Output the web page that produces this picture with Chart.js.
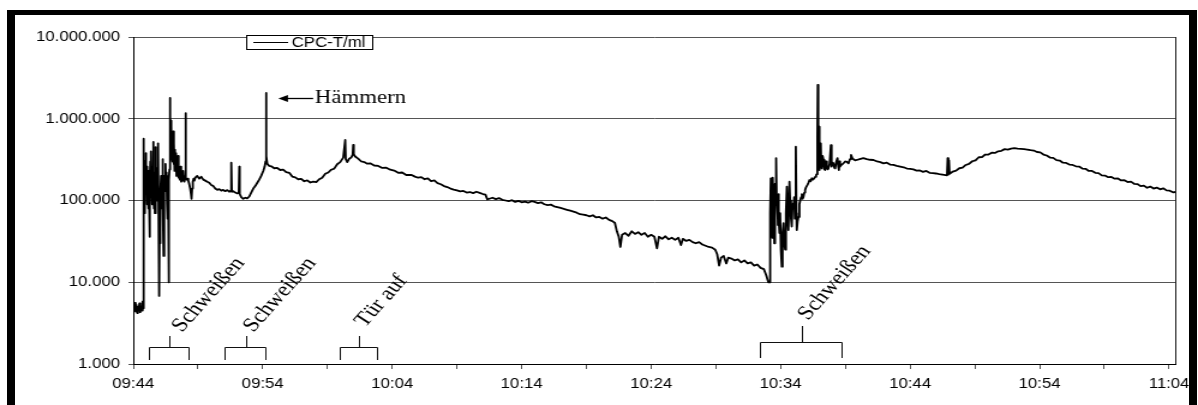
<!DOCTYPE html>
<html>
<head>
<meta charset="utf-8">
<script src="https://cdn.jsdelivr.net/npm/chart.js@4.4.1/dist/chart.umd.min.js"></script>
<style>
  html, body { margin: 0; padding: 0; background: #fff; overflow: hidden; }
  /* the original picture is stretched sideways, so the canvas is too */
  #wrap { position: absolute; left: 0; top: 0; width: 998px; height: 405px; transform: scaleX(1.2004); transform-origin: 0 0; }
  #frame { position: absolute; left: 7px; top: 10px; width: 1174px; height: 400px;
           border-left: 8px solid #000; border-top: 5px solid #000; border-right: 8px solid #000; pointer-events: none; }
</style>
</head>
<body>
<div id="wrap"><canvas id="c" width="998" height="405"></canvas></div>
<div id="frame"></div>
<script>
// minutes after 09:44
const minutes = [
  // 09:44 low start
  0.00, 0.06, 0.12, 0.18, 0.24, 0.30, 0.36, 0.42, 0.48, 0.54,
  0.60, 0.66, 0.72, 0.76,
  // first welding
  0.79, 0.82, 0.85, 0.88, 0.91, 0.94, 0.97, 1.00, 1.03, 1.06,
  1.09, 1.12, 1.16, 1.19, 1.22, 1.26, 1.29, 1.32, 1.35, 1.38,
  1.41, 1.44, 1.48, 1.51, 1.54, 1.57, 1.60, 1.63, 1.67, 1.70,
  1.73, 1.76, 1.80, 1.83, 1.86, 1.90, 1.93, 1.96, 2.00, 2.04,
  2.07, 2.11, 2.15, 2.19, 2.23, 2.26, 2.30, 2.34, 2.37, 2.41,
  2.45, 2.49, 2.53, 2.57, 2.61, 2.65, 2.69, 2.73, 2.77, 2.80,
  2.83,
  2.86, 2.89, 2.92, 2.95, 2.98, 3.01, 3.05, 3.08, 3.12, 3.15,
  3.19, 3.22, 3.26, 3.30, 3.34, 3.38, 3.42, 3.46, 3.50, 3.55,
  3.60, 3.65, 3.70, 3.75, 3.80, 3.85, 3.90, 3.95, 4.00, 4.04,
  4.07, 4.12, 4.18, 4.25, 4.32, 4.40, 4.46, 4.50, 4.55, 4.60,
  4.66, 4.72,
  // second welding, hammering
  4.79, 4.94, 5.10, 5.25, 5.41, 5.56, 5.71, 5.87, 6.02, 6.18,
  6.33, 6.49, 6.64, 6.80, 6.95, 7.10, 7.26, 7.41, 7.53, 7.57,
  7.61, 7.72, 7.88, 8.03, 8.15, 8.19, 8.22, 8.34, 8.49, 8.65,
  8.80, 8.96, 9.11, 9.27, 9.42, 9.58, 9.73, 9.88, 10.04, 10.15,
  10.22, 10.25, 10.29,
  10.35, 10.50, 10.66, 10.89, 11.12, 11.35, 11.58, 11.81, 12.05, 12.28,
  12.51, 12.74, 12.97, 13.20, 13.44, 13.67, 13.90, 14.13, 14.36, 14.59,
  14.83, 15.06, 15.29, 15.52, 15.75, 15.98, 16.22, 16.37, 16.41, 16.53,
  16.68, 16.83, 16.95, 16.99, 17.03, 17.14, 17.37, 17.61, 17.84, 18.07,
  18.30, 18.61, 18.92, 19.23, 19.54, 19.85, 20.15, 20.46, 20.77, 21.08,
  21.39,
  // slow decay
  21.50, 21.75, 22.00, 22.25, 22.50, 22.75, 23.00, 23.25, 23.50, 23.75,
  24.00, 24.25, 24.50, 24.75, 25.00, 25.25, 25.50, 25.75, 26.00, 26.25,
  26.50, 26.75, 27.00, 27.20, 27.35, 27.50, 27.75, 28.00, 28.25, 28.50,
  28.75, 29.00, 29.25, 29.50, 29.75, 30.00, 30.25, 30.50, 30.75, 31.00,
  31.25, 31.50, 31.75, 32.00, 32.25, 32.50, 32.75, 33.00, 33.25, 33.50,
  33.75, 34.00, 34.25, 34.50, 34.75, 35.00, 35.25, 35.50, 35.75, 36.00,
  36.25, 36.50, 36.75, 37.00, 37.20, 37.35, 37.50, 37.62, 37.75, 38.00,
  38.25, 38.50, 38.75, 39.00, 39.25, 39.50, 39.75, 40.00, 40.25, 40.45,
  40.60, 40.85, 41.10, 41.35, 41.60, 41.85, 42.10, 42.30, 42.45, 42.70,
  42.95, 43.20, 43.45, 43.70, 43.95, 44.20, 44.45, 44.70, 44.95, 45.10,
  45.25, 45.40, 45.60, 45.80, 45.95, 46.20, 46.45, 46.70, 46.95, 47.20,
  47.45, 47.70, 47.95, 48.20, 48.45, 48.70, 48.90, 49.05, 49.12,
  // third welding
  49.14, 49.19, 49.24, 49.28, 49.32, 49.36, 49.39, 49.43, 49.47, 49.51,
  49.55, 49.58, 49.62, 49.65, 49.70, 49.75, 49.79, 49.83, 49.87, 49.91,
  49.96, 50.02, 50.09, 50.15, 50.22, 50.28, 50.35, 50.41, 50.48, 50.54,
  50.60, 50.68, 50.73, 50.80, 50.86, 50.92, 50.99, 51.05, 51.10, 51.17,
  51.22, 51.25, 51.31, 51.38, 51.45, 51.51, 51.58, 51.64, 51.70, 51.76,
  51.83, 51.89, 51.96, 52.07, 52.15, 52.23, 52.32, 52.41, 52.50, 52.59,
  52.67, 52.74, 52.80, 52.84, 52.87, 52.91, 52.95, 53.00, 53.05, 53.10,
  53.14, 53.18, 53.24, 53.31, 53.38, 53.44, 53.50, 53.57, 53.63, 53.69,
  53.78, 53.88, 53.92, 53.95, 54.01, 54.08, 54.15, 54.21, 54.30, 54.39,
  54.45, 54.50, 54.55, 54.59, 54.72, 54.85, 54.98, 55.11, 55.24, 55.35,
  55.44, 55.53, 55.62, 55.75, 55.88, 56.10, 56.39, 56.65, 56.90, 57.17,
  57.45, 57.70, 57.94, 58.20, 58.45, 58.71, 58.97, 59.23,
  // second hump to the end
  59.50, 59.75, 60.00, 60.25, 60.50, 60.75, 61.00, 61.25, 61.50, 61.75,
  62.00, 62.25, 62.50, 62.75, 62.85, 62.90, 62.95, 63.00, 63.05, 63.30,
  63.55, 63.80, 64.05, 64.30, 64.55, 64.80, 65.05, 65.30, 65.55, 65.80,
  66.05, 66.30, 66.55, 66.80, 67.05, 67.30, 67.55, 67.80, 68.05, 68.30,
  68.55, 68.80, 69.05, 69.30, 69.55, 69.80, 70.05, 70.30, 70.55, 70.80,
  71.05, 71.30, 71.55, 71.80, 72.05, 72.30, 72.55, 72.80, 73.05, 73.30,
  73.55, 73.80, 74.05, 74.30, 74.55, 74.80, 75.05, 75.30, 75.55, 75.80,
  76.05, 76.30, 76.55, 76.80, 77.05, 77.30, 77.55, 77.80, 78.05, 78.30,
  78.55, 78.80, 79.05, 79.30, 79.55, 79.80, 80.05, 80.30, 80.50
];

// CPC-T/ml, particles per ml
const cpc = [
  5200, 4700, 5600, 4400, 5300, 4200, 5000, 4600, 5500, 4300,
  5100, 4500, 5800, 4800,
  570000, 90000, 250000, 70000, 300000, 140000, 380000, 120000, 260000, 90000,
  200000, 150000, 80000, 230000, 110000, 36000, 180000, 300000, 130000, 400000,
  160000, 90000, 260000, 140000, 520000, 150000, 80000, 220000, 70000, 450000,
  130000, 260000, 180000, 100000, 250000, 120000, 500000, 60000, 6800, 60000,
  30000, 120000, 200000, 80000, 150000, 320000, 90000, 21000, 100000, 200000,
  130000, 280000, 150000, 220000, 90000, 60000, 200000, 10000, 180000, 240000,
  1800000,
  700000, 950000, 400000, 800000, 350000, 650000, 300000, 700000, 280000, 500000,
  230000, 420000, 250000, 380000, 200000, 300000, 220000, 350000, 190000, 240000,
  180000, 260000, 170000, 190000, 175000, 230000, 180000, 170000, 200000, 1170000,
  190000, 180000, 185000, 175000, 160000, 140000, 120000, 105000, 140000, 170000,
  185000, 175000,
  190000, 200000, 185000, 195000, 180000, 175000, 170000, 165000, 155000, 150000,
  140000, 135000, 138000, 132000, 135000, 130000, 134000, 128000, 132000, 290000,
  128000, 130000, 125000, 122000, 125000, 260000, 120000, 110000, 105000, 108000,
  106000, 112000, 125000, 140000, 150000, 165000, 180000, 200000, 230000, 260000,
  300000, 2070000, 350000,
  280000, 265000, 262000, 248000, 250000, 236000, 238000, 222000, 218000, 196000,
  192000, 182000, 184000, 172000, 176000, 166000, 170000, 168000, 182000, 190000,
  212000, 220000, 238000, 245000, 278000, 295000, 335000, 550000, 320000, 295000,
  325000, 335000, 365000, 480000, 370000, 345000, 325000, 300000, 295000, 282000,
  285000, 268000, 265000, 250000, 252000, 238000, 232000, 218000, 220000, 205000,
  206000,
  205000, 196000, 190000, 193000, 182000, 186000, 172000, 176000, 163000, 158000,
  150000, 146000, 140000, 136000, 133000, 129000, 131000, 125000, 127000, 123000,
  128000, 124000, 120000, 118000, 103000, 105000, 108000, 104000, 107000, 102000,
  100000, 98000, 101000, 96000, 99000, 95000, 97000, 94000, 98000, 96000,
  93000, 95000, 90000, 88000, 89000, 85000, 83000, 81000, 79000, 77000,
  75000, 73000, 71000, 68000, 67000, 66000, 64000, 66000, 62000, 63000,
  60000, 62000, 58000, 56000, 53000, 42000, 36000, 27000, 38000, 40000,
  37000, 42000, 39000, 41000, 38000, 40000, 36000, 38000, 36000, 26000,
  36000, 34000, 36500, 33500, 35000, 33000, 35000, 28500, 34000, 32000,
  33000, 31000, 30000, 31000, 29000, 28000, 27000, 26500, 25000, 22000,
  16000, 20000, 21000, 17000, 20000, 19500, 18500, 19000, 17500, 18500,
  17000, 17500, 16000, 16500, 15000, 14500, 12000, 10000, 10200,
  10000, 70000, 187000, 60000, 150000, 35000, 190000, 80000, 120000, 30000,
  160000, 60000, 140000, 330000, 90000, 100000, 50000, 120000, 60000, 40000,
  70000, 25000, 15500, 40000, 53000, 30000, 25000, 70000, 148000, 60000,
  43500, 170000, 100000, 60000, 48000, 90000, 84000, 110000, 60000, 455000,
  70000, 43500, 55000, 63000, 90000, 100000, 110000, 120000, 105000, 110000,
  125000, 134000, 145000, 155000, 165000, 178000, 172000, 187000, 180000, 187000,
  195000, 205000, 210000, 600000, 2600000, 700000, 800000, 236000, 400000, 500000,
  260000, 247000, 350000, 313000, 240000, 236000, 300000, 260000, 240000, 247000,
  280000, 477000, 260000, 260000, 290000, 285000, 250000, 247000, 300000, 330000,
  260000, 236000, 300000, 260000, 275000, 285000, 300000, 297000, 285000, 320000,
  360000, 330000, 320000, 310000, 313000, 320000, 330000, 320000, 315000, 313000,
  300000, 295000, 285000, 290000, 275000, 272000, 265000, 260000,
  255000, 246000, 244000, 240000, 232000, 233000, 224000, 230000, 218000, 216000,
  214000, 210000, 207000, 204000, 203000, 330000, 208000, 310000, 212000, 226000,
  232000, 248000, 252000, 272000, 280000, 302000, 310000, 338000, 340000, 365000,
  365000, 385000, 382000, 400000, 405000, 425000, 420000, 432000, 438000, 430000,
  428000, 425000, 420000, 412000, 408000, 392000, 388000, 365000, 355000, 335000,
  332000, 312000, 308000, 290000, 288000, 275000, 272000, 262000, 260000, 246000,
  244000, 230000, 230000, 218000, 216000, 203000, 202000, 193000, 194000, 185000,
  186000, 176000, 177000, 168000, 170000, 160000, 159000, 150000, 152000, 143000,
  148000, 140000, 144000, 137000, 141000, 133000, 132000, 126000, 127000
];

const startClock = 9 * 60 + 44;           // 09:44
const yTicks = [1000, 10000, 100000, 1000000, 10000000];

// events marked under the curve (minutes after 09:44)
const eventText = ['Schweißen', 'Schweißen', 'Tür auf', 'Schweißen'];
const eventFrom = [1.16, 7.03, 15.98, 48.42];
const eventTo = [4.25, 10.19, 18.84, 54.67];
const hammerAt = 10.25;                   // the Hämmern spike

const pad2 = n => String(n).padStart(2, '0');
const fmtClock = m => { const t = startClock + m; return pad2(Math.floor(t / 60)) + ':' + pad2(t % 60); };
const fmtDots = v => String(Math.round(v)).replace(/\B(?=(\d{3})+(?!\d))/g, '.');

const SANS = '"Liberation Sans", Arial, sans-serif';
const SERIF = '"Liberation Serif", "Times New Roman", serif';

const notes = {
  id: 'notes',
  afterDraw(chart) {
    const { ctx, chartArea: a, scales: { x } } = chart;
    ctx.save();

    // right edge of the plot area
    const rx = Math.round(a.right) + 0.5;
    ctx.strokeStyle = '#222';
    ctx.lineWidth = 1;
    ctx.beginPath(); ctx.moveTo(rx, a.top); ctx.lineTo(rx, a.bottom); ctx.stroke();

    // legend box
    ctx.fillStyle = '#fff';
    ctx.fillRect(205.5, 35.5, 105, 14);
    ctx.strokeStyle = '#000';
    ctx.strokeRect(205.5, 35.5, 105, 14);
    ctx.beginPath(); ctx.moveTo(211, 42.5); ctx.lineTo(240, 42.5); ctx.stroke();
    ctx.fillStyle = '#000';
    ctx.font = '14px ' + SANS;
    ctx.textBaseline = 'middle';
    ctx.textAlign = 'left';
    ctx.fillText(chart.data.datasets[0].label, 243, 43.5);

    // arrow + "Hämmern"
    const tipX = x.getPixelForValue(hammerAt) + 10.3;
    const tipY = 98.5;
    ctx.lineWidth = 1.3;
    ctx.beginPath(); ctx.moveTo(tipX + 6, tipY); ctx.lineTo(tipX + 29, tipY); ctx.stroke();
    ctx.beginPath();
    ctx.moveTo(tipX, tipY); ctx.lineTo(tipX + 8, tipY - 3.5); ctx.lineTo(tipX + 8, tipY + 3.5);
    ctx.closePath(); ctx.fill();
    ctx.font = '19px ' + SERIF;
    ctx.textBaseline = 'alphabetic';
    ctx.fillText('Hämmern', tipX + 30.5, 102.5);

    // brackets and slanted labels
    const labelDx = [10, 5.5, 4.5, 4.5];
    const labelY = [333, 333, 328, 321];
    ctx.lineWidth = 1;
    ctx.strokeStyle = '#111';
    eventText.forEach((txt, i) => {
      const x0 = Math.round(x.getPixelForValue(eventFrom[i])) + 0.5;
      const x1 = Math.round(x.getPixelForValue(eventTo[i])) + 0.5;
      const xm = Math.round((x0 + x1) / 2) + 0.5;
      const [bar, foot, stem] = i === 3 ? [342.5, 358, 326] : [347.5, 360, 336];
      ctx.beginPath();
      ctx.moveTo(x0, foot); ctx.lineTo(x0, bar); ctx.lineTo(x1, bar); ctx.lineTo(x1, foot);
      ctx.moveTo(xm, bar); ctx.lineTo(xm, stem);
      ctx.stroke();

      ctx.save();
      ctx.translate(xm + labelDx[i], labelY[i]);
      ctx.rotate(-53 * Math.PI / 180);
      ctx.font = '20px ' + SERIF;
      ctx.fillText(txt, 0, 0);
      ctx.restore();
    });

    ctx.restore();
  }
};

new Chart(document.getElementById('c'), {
  type: 'line',
  data: {
    datasets: [{
      label: 'CPC-T/ml',
      data: minutes.map((m, i) => ({ x: m, y: cpc[i] })),
      borderColor: '#000',
      borderWidth: 1.8,
      borderJoinStyle: 'round',
      pointRadius: 0,
      tension: 0
    }]
  },
  options: {
    responsive: false,
    animation: false,
    events: [],
    layout: { padding: { left: 0, right: 18, top: 37, bottom: 0 } },
    plugins: { legend: { display: false }, tooltip: { enabled: false } },
    scales: {
      x: {
        type: 'linear',
        min: 0,
        max: 80.5,
        afterFit: s => { s.height = 41; },
        border: { color: '#000', width: 1 },
        grid: { drawOnChartArea: false, tickLength: 5, color: '#555' },
        ticks: {
          stepSize: 5,
          includeBounds: false,
          autoSkip: false,
          maxRotation: 0,
          padding: 7,
          color: '#000',
          font: { family: SANS, size: 14 },
          callback: v => (v % 10 === 0 ? fmtClock(v) : '')
        }
      },
      y: {
        type: 'logarithmic',
        min: 1000,
        max: 10000000,
        afterFit: s => { s.width = 111; },
        afterBuildTicks: s => { s.ticks = yTicks.map(v => ({ value: v })); },
        border: { color: '#000', width: 1 },
        grid: { color: '#555', lineWidth: 1, tickLength: 4 },
        ticks: {
          padding: 7,
          color: '#000',
          font: { family: SANS, size: 14 },
          callback: v => fmtDots(v)
        }
      }
    }
  },
  plugins: [notes]
});
</script>
</body>
</html>
